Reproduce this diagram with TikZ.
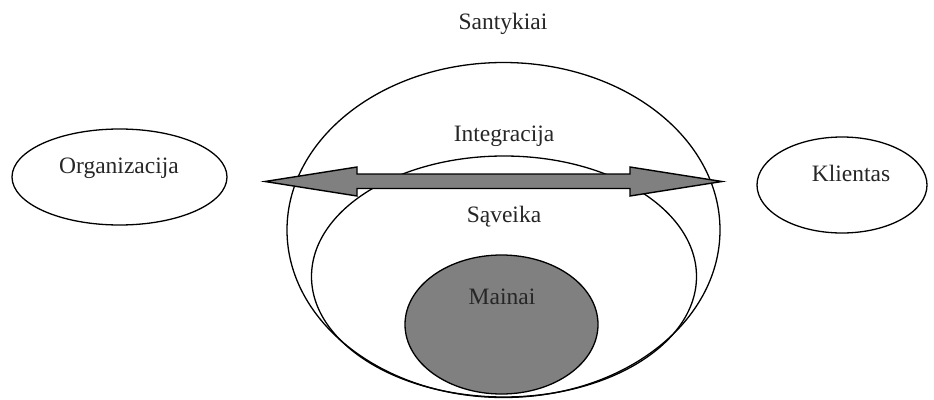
\documentclass[tikz,border=0pt]{standalone}
\usepackage{fontspec}
\setmainfont{Liberation Serif}
\usetikzlibrary{shapes.geometric,calc}
\definecolor{txtgray}{HTML}{262626}
\definecolor{fillgray}{HTML}{808080}
\tikzset{
  ring/.style={ellipse, draw=black, line width=1.3pt, inner sep=0pt},
  lbl/.style={anchor=base, inner sep=0pt, text=txtgray, font=\fontsize{23.5}{28}\selectfont},
  dblarrow/.style={draw=black, fill=fillgray, line width=1.4pt, line join=miter}
}
\begin{document}
\begin{tikzpicture}[x=1pt,y=-1pt]
\useasboundingbox (0,0) rectangle (934,399);
% rings
\node[ring, minimum width=433pt, minimum height=335pt] (santykiai) at (503.5,230) {};
\node[ring, minimum width=385pt, minimum height=241pt] (saveika) at (504,276.5) {};
\node[ring, fill=fillgray, minimum width=193pt, minimum height=139pt] (mainai) at (501.5,324.5) {};
\node[ring, minimum width=215pt, minimum height=96pt] (org) at (119.5,177) {};
\node[ring, minimum width=170pt, minimum height=96pt] (klient) at (842,185) {};
% labels
\node[lbl] (tSant) at (503,29) {Santykiai};
\node[lbl] (tInt) at (504,141) {Integracija};
\node[lbl] (tSav) at (504,222) {Sąveika};
\node[lbl] (tMain) at (502,304) {Mainai};
\node[lbl] (tOrg) at (119,173) {Organizacija};
\node[lbl] (tKl) at (851,181) {Klientas};
% double arrow
\coordinate (aL) at (265,181.5);
\coordinate (aR) at (722,181.5);
\draw[dblarrow] (aL) -- ($(aL)+(92,-14.5)$) -- ($(aL)+(92,-7.5)$)
  -- ($(aR)+(-92,-7.5)$) -- ($(aR)+(-92,-14.5)$) -- (aR)
  -- ($(aR)+(-92,14.5)$) -- ($(aR)+(-92,7)$)
  -- ($(aL)+(92,7)$) -- ($(aL)+(92,14.5)$) -- cycle;
\end{tikzpicture}
\end{document}
